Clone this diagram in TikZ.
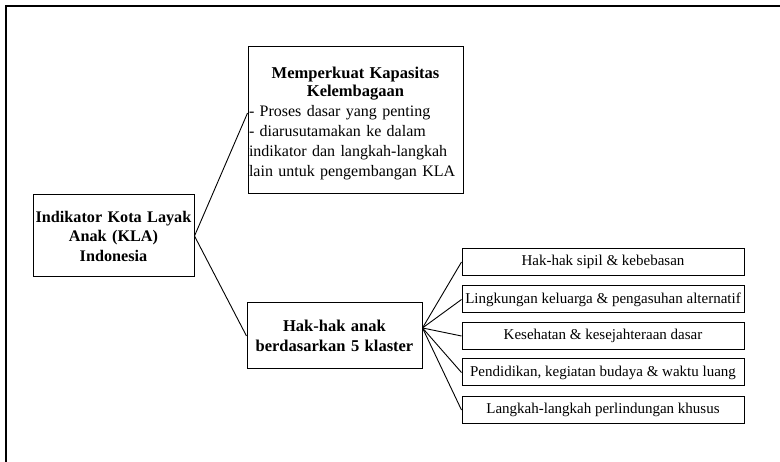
\documentclass[tikz,border=0pt]{standalone}
\usepackage{fontspec}
\setmainfont{Liberation Serif}
\usetikzlibrary{calc}
\begin{document}
\begin{tikzpicture}[x=1pt,y=-1pt,
  box/.style={draw=black, line width=1pt, inner sep=0pt, align=center},
  conn/.style={draw=black, line width=0.9pt},
  clusterbox/.style={box, minimum width=282pt, minimum height=27pt,
    font=\fontsize{15}{18}\selectfont}]
\useasboundingbox (0,0) rectangle (780,462);
\draw[line width=1.3pt] (6,462) -- (6,6) -- (780,6);

\node[box, minimum width=161pt, minimum height=82pt, text width=161pt,
  font=\fontsize{16.2}{19.5}\selectfont\bfseries] (main) at (113.5,236)
  {Indikator Kota Layak\\Anak (KLA)\\Indonesia};

\node[box, minimum width=215pt, minimum height=147pt, text width=213pt, inner xsep=1pt,
  align=left, font=\fontsize{16}{20}\selectfont] (top) at (355.5,120.5)
  {{\centering\bfseries\fontsize{16.5}{18}\selectfont\rule{0pt}{17.5pt}Memperkuat Kapasitas\\Kelembagaan\par}%
   \raggedright - Proses dasar yang penting\\- diarusutamakan ke dalam\\indikator dan langkah-langkah\\lain untuk pengembangan KLA\par};

\node[box, minimum width=175pt, minimum height=66pt, text width=175pt,
  font=\fontsize{16.5}{20}\selectfont\bfseries] (bottom) at (334.5,336)
  {Hak-hak anak\\berdasarkan 5 klaster};

\node[clusterbox] (c1) at (603,262) {Hak-hak sipil \& kebebasan};
\node[clusterbox] (c2) at (603,299.5) {Lingkungan keluarga \& pengasuhan alternatif};
\node[clusterbox] (c3) at (603,336) {Kesehatan \& kesejahteraan dasar};
\node[clusterbox] (c4) at (603,372.5) {Pendidikan, kegiatan budaya \& waktu luang};
\node[clusterbox] (c5) at (603,410) {Langkah-langkah perlindungan khusus};

\coordinate (topin) at ($(top.north west)!0.45!(top.south west)$);
\coordinate (hub) at ($(bottom.north east)!0.38!(bottom.south east)$);

\draw[conn] (main.east) -- (topin);
\draw[conn] (main.east) -- (bottom.west);
\foreach \c in {c1,c2,c3,c4,c5} \draw[conn] (hub) -- (\c.west);
\end{tikzpicture}
\end{document}
